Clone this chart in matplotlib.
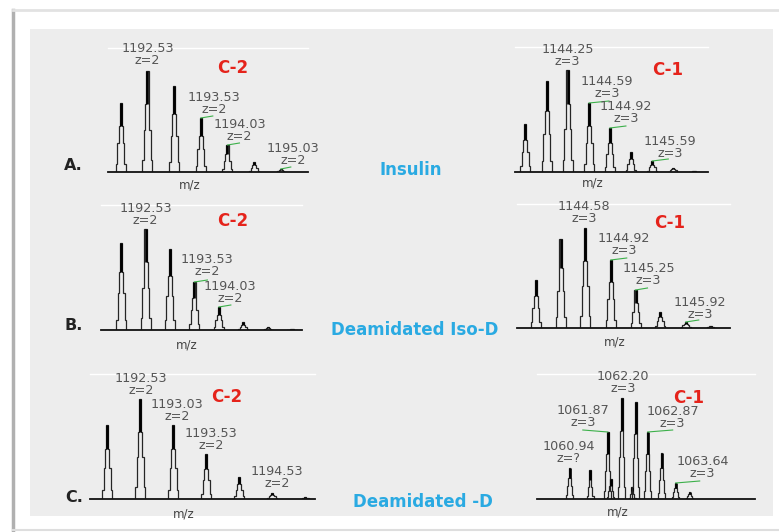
import numpy as np
import matplotlib
matplotlib.use("Agg")
import matplotlib.pyplot as plt
from matplotlib.patches import Rectangle

# ── data (m/z, relative intensity) ──────────────────────────────────────────
a_c2_mz = [1192.03, 1192.53, 1193.03, 1193.53, 1194.03, 1194.53, 1195.03]
a_c2_int = [69, 101, 86, 54, 27, 10, 3]
a_c1_mz = [1143.58, 1143.92, 1144.25, 1144.59, 1144.92, 1145.25, 1145.59, 1145.92, 1146.25]
a_c1_int = [48, 91, 102, 69, 44, 20, 11, 4, 1]

b_c2_mz = [1192.03, 1192.53, 1193.03, 1193.53, 1194.03, 1194.53, 1195.03, 1195.53]
b_c2_int = [87, 101, 81, 48, 23, 8, 3, 1]
b_c1_mz = [1143.92, 1144.25, 1144.58, 1144.92, 1145.25, 1145.58, 1145.92, 1146.25]
b_c1_int = [48, 89, 100, 68, 38, 16, 6, 2]

c_c2_mz = [1192.03, 1192.53, 1193.03, 1193.53, 1194.03, 1194.53, 1195.03]
c_c2_int = [74, 100, 74, 45, 22, 6, 2]
c_c1_mz = [1060.97, 1061.45, 1061.87, 1061.94, 1062.20, 1062.44, 1062.53,
           1062.81, 1063.14, 1063.47, 1063.80]
c_c1_int = [31, 29, 67, 20, 101, 12, 97, 67, 46, 16, 7]

# peak labels: (peak index, text)
a_c2_labels = [(1, "1192.53\nz=2"), (3, "1193.53\nz=2"), (4, "1194.03\nz=2"), (6, "1195.03\nz=2")]
a_c1_labels = [(2, "1144.25\nz=3"), (3, "1144.59\nz=3"), (4, "1144.92\nz=3"), (6, "1145.59\nz=3")]
b_c2_labels = [(1, "1192.53\nz=2"), (3, "1193.53\nz=2"), (4, "1194.03\nz=2")]
b_c1_labels = [(2, "1144.58\nz=3"), (3, "1144.92\nz=3"), (4, "1145.25\nz=3"), (6, "1145.92\nz=3")]
c_c2_labels = [(1, "1192.53\nz=2"), (2, "1193.03\nz=2"), (3, "1193.53\nz=2"), (5, "1194.53\nz=2")]
c_c1_labels = [(4, "1062.20\nz=3"), (2, "1061.87\nz=3"), (7, "1062.87\nz=3"),
               (0, "1060.94\nz=?"), (9, "1063.64\nz=3")]

row_tags = ["A.", "B.", "C."]
samples = ["Insulin", "Deamidated Iso-D", "Deamidated -D"]

W, H = 779, 532
fig = plt.figure(figsize=(W / 100, H / 100), dpi=100)
fig.patch.set_facecolor("white")

# ── frame (pixel space background) ───────────────────────────────────────────
bg = fig.add_axes([0, 0, 1, 1])
bg.set_xlim(0, W)
bg.set_ylim(H, 0)
bg.axis("off")
bg.add_patch(Rectangle((30, 29), 743, 487, fc="#ededed", ec="none"))
bg.plot([13, 13], [10, H], color="#b0b0b0", lw=2.5)
bg.plot([13, W], [10, 10], color="#e2e2e2", lw=2)
bg.plot([13, W], [530, 530], color="#dedede", lw=1.5)


def fpos(x, y):
    return x / W, 1 - y / H


# label style offsets in pixels: (dx, dy, green length)
panels = [
    dict(mz=a_c2_mz, inten=a_c2_int, labels=a_c2_labels, box=(108, 308, 172, 48),
         xlim=(1191.79, 1195.54), offs=[(0, 4, 0), (13, 2, 12), (12, 2, 12), (12, 2, 10)],
         tag="C-2", tag_xy=(233, 68), mzl=(190, 185), w=1.0),
    dict(mz=a_c1_mz, inten=a_c1_int, labels=a_c1_labels, box=(515, 708, 172, 47),
         xlim=(1143.42, 1146.47), offs=[(0, 2, 0), (18, 3, 20), (16, 3, 16), (18, 1, 16)],
         tag="C-1", tag_xy=(668, 70), mzl=(593, 183), w=1.0),
    dict(mz=b_c2_mz, inten=b_c2_int, labels=b_c2_labels, box=(101, 302, 330, 205),
         xlim=(1191.62, 1195.73), offs=[(0, 2, 0), (13, 4, 13), (11, 2, 12)],
         tag="C-2", tag_xy=(233, 221), mzl=(187, 345), w=1.0),
    dict(mz=b_c1_mz, inten=b_c1_int, labels=b_c1_labels, box=(517, 730, 328, 204),
         xlim=(1143.67, 1146.51), offs=[(-1, 3, 0), (13, 3, 16), (13, 3, 12), (14, 1, 13)],
         tag="C-1", tag_xy=(670, 223), mzl=(615, 342), w=1.0),
    dict(mz=c_c2_mz, inten=c_c2_int, labels=c_c2_labels, box=(90, 315, 499, 374),
         xlim=(1191.77, 1195.18), offs=[(1, 2, 0), (4, 2, 0), (5, 2, 0), (5, 3, 0)],
         tag="C-2", tag_xy=(227, 397), mzl=(184, 514), w=1.0),
    dict(mz=c_c1_mz, inten=c_c1_int, labels=c_c1_labels, box=(537, 755, 499, 374),
         xlim=(1060.20, 1065.34), offs=[(1, 3, 0), (-25, 3, -25), (25, 2, 25), (-1, 3, 0), (27, 3, 24)],
         tag="C-1", tag_xy=(689, 398), mzl=(618, 512), w=0.7),
]

# stepped peak profile: half widths (px) and height fractions
half_w = [5.0, 3.5, 2.0, 1.1]
levels = [0.0, 0.12, 0.42, 0.67, 1.0]

for p in panels:
    x0, x1, yb, yt = p["box"]
    l, b = fpos(x0, yb)
    ax = fig.add_axes([l, b, (x1 - x0) / W, (yb - yt) / H])
    ax.set_xlim(*p["xlim"])
    ax.set_ylim(0, yb - yt)
    ax.patch.set_alpha(0)
    ppu = (x1 - x0) / (p["xlim"][1] - p["xlim"][0])
    for s in ["left", "right"]:
        ax.spines[s].set_visible(False)
    ax.spines["bottom"].set_color("#111111")
    ax.spines["bottom"].set_linewidth(1.3)
    ax.spines["top"].set_color("white")
    ax.spines["top"].set_linewidth(1.0)
    ax.set_xticks([])
    ax.set_yticks([])

    for mz, h in zip(p["mz"], p["inten"]):
        xs, ys = [], []
        for i, hw in enumerate(half_w):
            d = hw * p["w"] / ppu
            xs += [mz - d, mz - d]
            ys += [levels[i] * h, levels[i + 1] * h]
        xs = xs + [mz + (mz - v) for v in xs[::-1]]
        ys = ys + ys[::-1]
        ax.plot(xs, ys, color="#262626", lw=0.9, solid_joinstyle="miter")
        ax.vlines(mz, 0.67 * h, h, color="black", lw=1.9)

    for (idx, txt), (dx, dy, g) in zip(p["labels"], p["offs"]):
        mz, h = p["mz"][idx], p["inten"][idx]
        ax.annotate(txt, xy=(mz, h), xytext=(dx, dy), textcoords="offset pixels",
                    ha="center", va="bottom", fontsize=9.2, color="#555555",
                    linespacing=0.88, annotation_clip=False)
        if g:
            ax.plot([mz, mz + g / ppu], [h, h + 2], color="#3cb04a", lw=0.8,
                    clip_on=False)

    fig.text(*fpos(*p["tag_xy"]), p["tag"], color="#e5231b", fontsize=12,
             fontweight="bold", ha="center", va="center")
    fig.text(*fpos(*p["mzl"]), "m/z", color="#444444", fontsize=8.5,
             ha="center", va="center")

for tag, name, yb, tx, nx in zip(row_tags, samples, [166, 326, 498], [73, 74, 74], [411, 415, 423]):
    fig.text(*fpos(tx, yb), tag, fontsize=11.5, fontweight="bold", color="#222222",
             ha="center", va="center")
    fig.text(*fpos(nx, yb + 4), name, fontsize=12, fontweight="bold",
             color="#2aaae2", ha="center", va="center")

fig.savefig("out.png", dpi=100)
